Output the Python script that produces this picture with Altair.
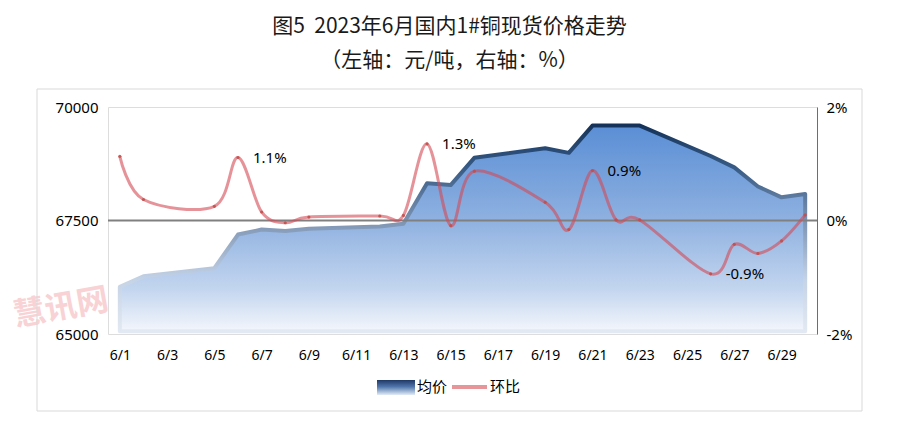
import altair as alt
import pandas as pd

# ---- data ----
days = [1, 2, 5, 6, 7, 8, 9, 12, 13, 14, 15, 16, 19, 20, 21, 22, 23, 26, 27, 28, 29, 30]
price = [66040, 66270, 66450, 67190, 67300, 67270, 67320, 67370, 67430, 68320, 68280,
         68880, 69090, 68990, 69590, 69590, 69590, 68920, 68670, 68250, 68010, 68085]
pct = [1.13, 0.37, 0.25, 1.11, 0.15, -0.04, 0.06, 0.08, 0.09, 1.35, -0.09,
       0.87, 0.32, -0.16, 0.88, 0.01, 0.01, -0.94, -0.42, -0.58, -0.36, 0.10]
labels = ["", "", "", "1.1%", "", "", "", "", "", "1.3%", "",
          "", "", "", "0.9%", "", "", "-0.9%", "", "", "", ""]
tick_days = list(range(1, 30, 2))
price_ticks = [65000, 67500, 70000]
pct_ticks = [-2, 0, 2]
title_text = "图5\u00a0\u00a02023年6月国内1#铜现货价格走势"
subtitle_text = "（左轴：元/吨，右轴：%）"
legend_names = ["均价", "环比"]
watermark = "慧讯网"

df = pd.DataFrame({"day": days, "price": price, "pct": pct, "lbl": labels})
zero_df = pd.DataFrame({"pct": [0]})
dummy = pd.DataFrame({"d": [0]})

W, H = 709, 227
NUM_FONT = "Noto Sans"
CJK_FONT = "Noto Sans CJK SC"

x_enc = alt.X(
    "day:Q",
    scale=alt.Scale(domain=[0.5, 30.5], nice=False, zero=False),
    axis=alt.Axis(values=tick_days, labelExpr="'6/' + datum.value", grid=False,
                  domain=False, ticks=False, labelPadding=14, labelFontSize=14,
                  labelFont=NUM_FONT, labelColor="#000000", labelFlush=False,
                  labelOverlap=False, title=None),
)

y_price = alt.Y(
    "price:Q",
    scale=alt.Scale(domain=[65000, 70000], nice=False, zero=False),
    axis=alt.Axis(orient="left", values=price_ticks, format="d", grid=False, domain=False,
                  ticks=False, labelPadding=10, labelFontSize=15, labelFont=NUM_FONT,
                  labelColor="#000000", labelOverlap=False, title=None),
)

y_pct = alt.Y(
    "pct:Q",
    scale=alt.Scale(domain=[-2, 2], nice=False, zero=False),
    axis=alt.Axis(orient="right", values=pct_ticks, labelExpr="datum.value + '%'",
                  grid=False, domain=True, domainColor="#4472c4", domainWidth=1,
                  ticks=False, labelPadding=9, labelFontSize=15, labelFont=NUM_FONT,
                  labelColor="#000000", labelOverlap=False, title=None),
)

fill_grad = alt.Gradient(
    gradient="linear", x1=0, y1=0, x2=0, y2=1,
    stops=[alt.GradientStop(color="#5a8ed5", offset=0),
           alt.GradientStop(color="#8db0e0", offset=0.45),
           alt.GradientStop(color="#c4d6ef", offset=0.8),
           alt.GradientStop(color="#f3f6fc", offset=1)],
)
stroke_grad = alt.Gradient(
    gradient="linear", x1=0, y1=0, x2=0, y2=1,
    stops=[alt.GradientStop(color="#15335a", offset=0),
           alt.GradientStop(color="#365a85", offset=0.2),
           alt.GradientStop(color="#7890b0", offset=0.45),
           alt.GradientStop(color="#c5d3e6", offset=0.75),
           alt.GradientStop(color="#e3e9f2", offset=1)],
)
legend_grad = alt.Gradient(
    gradient="linear", x1=0, y1=0, x2=0, y2=1,
    stops=[alt.GradientStop(color="#1f3864", offset=0),
           alt.GradientStop(color="#4f76ab", offset=0.45),
           alt.GradientStop(color="#e3ecf7", offset=1)],
)

# ---- decorations ----
wm = alt.Chart(dummy).mark_text(
    text=watermark, font=CJK_FONT, fontSize=32, fontWeight="bold", color="#f8d2d4",
    angle=350, align="center", baseline="middle",
).encode(x=alt.value(-47), y=alt.value(201))

box = alt.Chart(dummy).mark_rect(
    fill="transparent", stroke="#d9d9d9", strokeWidth=1
).encode(x=alt.value(-71), x2=alt.value(754), y=alt.value(-18), y2=alt.value(304))

leg_rect = alt.Chart(dummy).mark_rect(fill=legend_grad).encode(
    x=alt.value(269), x2=alt.value(307), y=alt.value(273), y2=alt.value(288))
leg_t1 = alt.Chart(dummy).mark_text(
    text=legend_names[0], font=CJK_FONT, fontSize=15, color="#000000",
    align="left", baseline="middle").encode(x=alt.value(309), y=alt.value(280))
leg_line = alt.Chart(dummy).mark_rule(color="#e8959a", strokeWidth=4).encode(
    x=alt.value(344), x2=alt.value(379), y=alt.value(280))
leg_t2 = alt.Chart(dummy).mark_text(
    text=legend_names[1], font=CJK_FONT, fontSize=15, color="#000000",
    align="left", baseline="middle").encode(x=alt.value(382), y=alt.value(280))

# ---- price area ----
area = alt.Chart(df).mark_area(
    fill=fill_grad, stroke=stroke_grad, strokeWidth=4, strokeJoin="round",
    interpolate="linear",
).encode(x=x_enc, y=y_price, y2=alt.datum(65060))

price_layer = alt.layer(area)

# ---- pct line ----
zero_rule = alt.Chart(zero_df).mark_rule(color="#808080", strokeWidth=2).encode(y=y_pct)
line = alt.Chart(df).mark_line(
    interpolate="cardinal", color="#d44a55", opacity=0.6, strokeWidth=3
).encode(x=x_enc, y=y_pct)
pts = alt.Chart(df).mark_circle(size=10, color="#c0504d", opacity=0.9).encode(x=x_enc, y=y_pct)
lbls = alt.Chart(df).transform_filter("datum.lbl != ''").mark_text(
    align="left", baseline="middle", dx=15, font=NUM_FONT, fontSize=15, color="#000000"
).encode(x=x_enc, y=y_pct, text="lbl:N")

pct_layer = alt.layer(zero_rule, line, pts, lbls)

chart = alt.layer(
    wm, box, leg_rect, leg_t1, leg_line, leg_t2, price_layer, pct_layer
).resolve_scale(y="independent").properties(
    width=W, height=H,
    autosize=alt.AutoSizeParams(type="none"),
    padding={"left": 100, "top": 99, "right": 70, "bottom": 85},
    title=alt.TitleParams(
        text=title_text, subtitle=subtitle_text, font=CJK_FONT, fontSize=21,
        fontWeight="normal", color="#1a1a1a", subtitleFont=CJK_FONT,
        subtitleFontSize=21, subtitleColor="#1a1a1a", subtitlePadding=13,
        offset=18, anchor="middle", frame="group", dx=-13,
    ),
).configure_view(fill="#f8f8f8", stroke="#bfbfbf", strokeWidth=1).configure(background="#ffffff")

chart.save("out.html", embed_options={"renderer": "svg", "actions": False})
